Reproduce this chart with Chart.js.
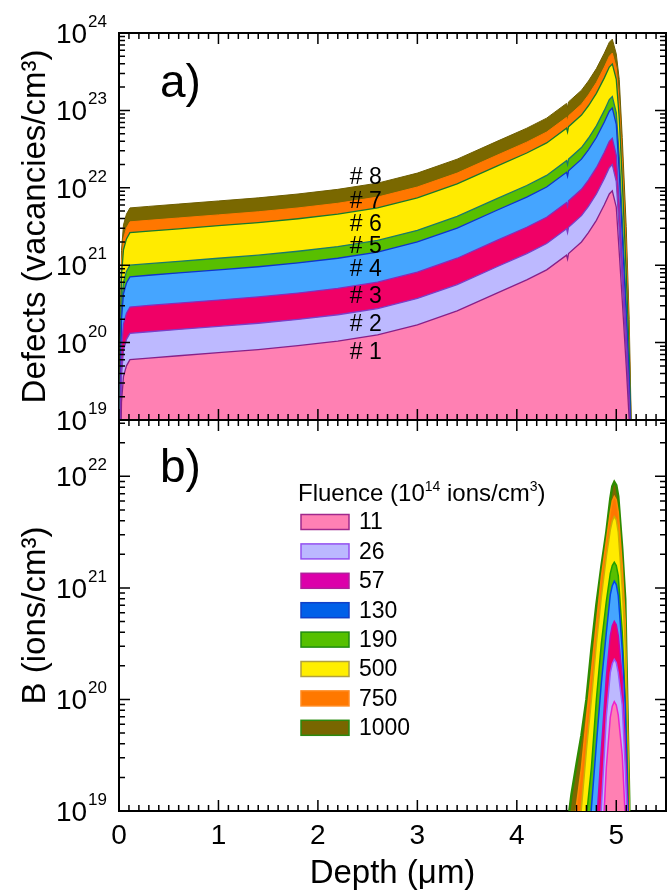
<!DOCTYPE html>
<html>
<head>
<meta charset="utf-8">
<script src="https://cdn.jsdelivr.net/npm/chart.js@4.4.1/dist/chart.umd.min.js"></script>
<style>
  html, body { margin: 0; background: #fff; }
  #wrap { position: relative; width: 668px; height: 892px; }
  canvas { position: absolute; left: 0; }
  #defects { top: 0; }
  #boron { top: 410px; }
</style>
</head>
<body>
<div id="wrap">
  <canvas id="defects" width="668" height="440"></canvas>
  <canvas id="boron" width="668" height="482"></canvas>
</div>
<script>
// fluence of each implant, in 1e14 ions/cm^3
const fluences = ['11', '26', '57', '130', '190', '500', '750', '1000'];

// panel a: vacancy profiles, values are log10(vacancies/cm^3)
const depthA = [0.000, 0.015, 0.025, 0.045, 0.075, 0.11, 0.3, 0.6, 1.0, 1.4, 1.8, 2.2, 2.6, 3.0, 3.4, 3.8, 4.1, 4.3, 4.50, 4.51, 4.52, 4.65, 4.72, 4.8, 4.84, 4.88, 4.93, 4.96, 5.00, 5.03, 5.06, 5.10, 5.13, 5.15, 5.17];
const defects11   = [10, 18.38, 19.23, 19.56, 19.70, 19.78, 19.80, 19.83, 19.87, 19.91, 19.96, 20.02, 20.10, 20.23, 20.41, 20.64, 20.81, 20.94, 21.13, 21.08, 21.15, 21.30, 21.42, 21.58, 21.68, 21.78, 21.92, 21.96, 21.75, 21.16, 20.55, 19.70, 19.00, 18.00, 10];
const defects26   = [10, 18.72, 19.57, 19.90, 20.04, 20.12, 20.14, 20.17, 20.21, 20.25, 20.30, 20.36, 20.44, 20.57, 20.75, 20.98, 21.15, 21.28, 21.47, 21.42, 21.49, 21.64, 21.76, 21.92, 22.02, 22.12, 22.26, 22.30, 22.08, 21.45, 20.80, 19.90, 19.15, 18.20, 10];
const defects57   = [10, 19.06, 19.91, 20.24, 20.38, 20.46, 20.48, 20.51, 20.55, 20.59, 20.64, 20.70, 20.78, 20.91, 21.09, 21.32, 21.49, 21.62, 21.81, 21.76, 21.83, 21.98, 22.10, 22.26, 22.36, 22.46, 22.60, 22.64, 22.42, 21.78, 21.05, 20.10, 19.30, 18.40, 10];
const defects130  = [10, 19.45, 20.30, 20.63, 20.77, 20.85, 20.87, 20.90, 20.94, 20.98, 21.03, 21.09, 21.17, 21.30, 21.48, 21.71, 21.88, 22.01, 22.20, 22.15, 22.22, 22.37, 22.49, 22.65, 22.75, 22.85, 22.99, 23.03, 22.82, 22.20, 21.40, 20.35, 19.50, 18.60, 10];
const defects190  = [10, 19.60, 20.45, 20.78, 20.92, 21.00, 21.02, 21.05, 21.09, 21.13, 21.18, 21.24, 21.32, 21.45, 21.63, 21.86, 22.03, 22.16, 22.35, 22.30, 22.37, 22.52, 22.64, 22.80, 22.90, 23.00, 23.14, 23.18, 22.97, 22.40, 21.60, 20.50, 19.60, 18.70, 10];
const defects500  = [10, 20.02, 20.87, 21.20, 21.34, 21.42, 21.44, 21.47, 21.51, 21.55, 21.60, 21.66, 21.74, 21.87, 22.05, 22.28, 22.45, 22.58, 22.77, 22.72, 22.79, 22.94, 23.06, 23.22, 23.32, 23.42, 23.56, 23.60, 23.40, 22.90, 22.10, 20.90, 19.85, 18.85, 10];
const defects750  = [10, 20.16, 21.01, 21.34, 21.48, 21.56, 21.58, 21.61, 21.65, 21.69, 21.74, 21.80, 21.88, 22.01, 22.19, 22.42, 22.59, 22.72, 22.91, 22.86, 22.93, 23.08, 23.20, 23.36, 23.46, 23.56, 23.70, 23.74, 23.55, 23.10, 22.35, 21.20, 20.05, 18.90, 10];
const defects1000 = [10, 20.34, 21.19, 21.52, 21.66, 21.74, 21.76, 21.79, 21.83, 21.87, 21.92, 21.98, 22.06, 22.19, 22.37, 22.60, 22.77, 22.90, 23.09, 23.04, 23.11, 23.26, 23.38, 23.54, 23.64, 23.74, 23.88, 23.92, 23.73, 23.40, 22.65, 21.50, 20.30, 19.00, 10];

// panel b: implanted boron, values are log10(ions/cm^3)
const depthB = [0, 4.40, 4.50, 4.55, 4.60, 4.65, 4.70, 4.75, 4.80, 4.85, 4.90, 4.94, 4.96, 4.98, 5.00, 5.02, 5.06, 5.09, 5.11, 5.13, 5.15, 5.50];
const boron11   = [10, 10, 10, 10, 10, 10, 10, 10, 17.6, 18.50, 19.39, 19.84, 19.94, 19.98, 19.95, 19.86, 19.50, 18.95, 18.50, 18.00, 17.0, 10];
const boron26   = [10, 10, 10, 10, 10, 10, 10, 17.5, 18.30, 19.03, 19.85, 20.24, 20.32, 20.36, 20.33, 20.24, 19.95, 19.40, 18.95, 18.30, 17.0, 10];
const boron57   = [10, 10, 10, 10, 10, 10, 17.6, 18.30, 18.85, 19.55, 20.20, 20.57, 20.66, 20.70, 20.67, 20.57, 20.20, 19.60, 19.10, 18.40, 17.0, 10];
const boron130  = [10, 10, 10, 10, 10, 17.8, 18.50, 19.03, 19.60, 20.15, 20.60, 20.94, 21.02, 21.06, 21.03, 20.93, 20.45, 19.95, 19.30, 18.60, 17.0, 10];
const boron190  = [10, 10, 10, 10, 17.8, 18.50, 18.95, 19.39, 20.00, 20.50, 20.88, 21.13, 21.20, 21.23, 21.20, 21.11, 20.60, 20.00, 19.40, 18.70, 17.0, 10];
const boron500  = [10, 10, 10, 17.8, 18.60, 19.03, 19.55, 20.00, 20.50, 20.92, 21.28, 21.52, 21.60, 21.64, 21.61, 21.50, 21.00, 20.50, 19.80, 18.90, 17.0, 10];
const boron750  = [10, 10, 17.8, 18.70, 19.05, 19.39, 19.83, 20.25, 20.68, 21.10, 21.42, 21.68, 21.78, 21.82, 21.79, 21.68, 21.20, 20.70, 19.90, 19.00, 17.0, 10];
const boron1000 = [10, 17.5, 18.8, 19.15, 19.42, 19.68, 20.00, 20.45, 20.85, 21.19, 21.50, 21.80, 21.91, 21.95, 21.92, 21.82, 21.35, 20.90, 20.00, 19.10, 17.0, 10];

const defectSeries = [defects11, defects26, defects57, defects130, defects190, defects500, defects750, defects1000];
const boronSeries = [boron11, boron26, boron57, boron130, boron190, boron500, boron750, boron1000];

const fillColors   = ['#ff80b3', '#bdb9ff', '#f00066', '#45a5ff', '#58bf00', '#ffeb00', '#ff7700', '#7a6800'];
const linesA       = ['#862089', '#7a3fc8', '#8a2ab8', '#1034cc', '#1a7a6a', '#17792c', '#ff7700', '#6e5e00'];
const linesB       = ['#ee22cc', '#9955ff', '#cc00aa', '#0044e6', '#22a000', '#ccb000', '#ff8c00', '#2e8b00'];
const legendFill   = ['#ff80b4', '#bbb8ff', '#dc00aa', '#0060e8', '#55c000', '#ffee00', '#ff7800', '#786600'];
const legendLine   = ['#a0288c', '#9450f0', '#b0209c', '#1040c8', '#1f8c10', '#b0a040', '#ff8a20', '#2a8a10'];

const FONT = "'Liberation Sans', Arial, sans-serif";
Chart.defaults.font.family = FONT;
Chart.defaults.color = '#000';

function toPoints(xs, logs) {
  return xs.map((x, i) => ({ x, y: Math.pow(10, logs[i]) }));
}

// "10" with a raised exponent, right-aligned at xRight
function drawPower(ctx, xRight, yMid, exp) {
  const base = '28px ' + FONT, sup = '17px ' + FONT;
  ctx.font = sup;
  const sw = ctx.measureText(String(exp)).width;
  ctx.font = base;
  const bw = ctx.measureText('10').width;
  const x0 = xRight - sw - bw - 1;
  ctx.textAlign = 'left';
  ctx.textBaseline = 'alphabetic';
  ctx.fillText('10', x0, yMid + 10);
  ctx.font = sup;
  ctx.fillText(String(exp), x0 + bw + 1, yMid - 6);
}

// closed frame with inward ticks on all four sides, decade labels on the left
const frameTicks = {
  id: 'frameTicks',
  afterDraw(chart) {
    const { ctx, chartArea: a, scales: { x, y } } = chart;
    ctx.save();
    ctx.strokeStyle = '#000';
    ctx.lineWidth = 2;
    ctx.beginPath();
    ctx.moveTo(a.left, a.top);
    ctx.lineTo(a.right, a.top);
    ctx.lineTo(a.right, a.bottom);
    ctx.stroke();

    ctx.lineWidth = 1.5;
    ctx.beginPath();
    for (let i = 0; i <= x.max * 10 + 1e-9; i++) {
      const px = x.getPixelForValue(i / 10);
      const len = i % 10 === 0 ? 11 : 6;
      ctx.moveTo(px, a.bottom); ctx.lineTo(px, a.bottom - len);
      ctx.moveTo(px, a.top); ctx.lineTo(px, a.top + len);
    }
    const e0 = Math.floor(Math.log10(y.min)), e1 = Math.ceil(Math.log10(y.max));
    for (let e = e0; e <= e1; e++) {
      for (let m = 1; m <= 9; m++) {
        const v = m * Math.pow(10, e);
        if (v < y.min * 0.999 || v > y.max * 1.001) continue;
        const py = y.getPixelForValue(v);
        const len = m === 1 ? 11 : 6;
        ctx.moveTo(a.left, py); ctx.lineTo(a.left + len, py);
        ctx.moveTo(a.right, py); ctx.lineTo(a.right - len, py);
      }
    }
    ctx.stroke();

    ctx.fillStyle = '#000';
    for (let e = e0; e <= e1; e++) {
      const v = Math.pow(10, e);
      if (v < y.min * 0.999 || v > y.max * 1.001) continue;
      drawPower(ctx, a.left - 12, y.getPixelForValue(v), e);
    }
    ctx.restore();
  }
};

// panel letter and the "# n" tags
const panelText = {
  id: 'panelText',
  afterDraw(chart, args, opts) {
    const { ctx, scales: { x, y } } = chart;
    ctx.save();
    ctx.fillStyle = '#000';
    ctx.textAlign = 'left';
    ctx.textBaseline = 'alphabetic';
    ctx.font = '46px ' + FONT;
    ctx.fillText(opts.letter, opts.letterX, opts.letterY);
    if (opts.tags) {
      ctx.font = '23px ' + FONT;
      ctx.textBaseline = 'middle';
      opts.tags.forEach((lv, i) => {
        ctx.fillText('# ' + (i + 1), x.getPixelForValue(opts.tagDepth), y.getPixelForValue(Math.pow(10, lv)));
      });
    }
    ctx.restore();
  }
};

// fluence key drawn inside panel b
const fluenceKey = {
  id: 'fluenceKey',
  afterDraw(chart, args, opts) {
    const { ctx } = chart;
    ctx.save();
    ctx.fillStyle = '#000';
    ctx.textAlign = 'left';
    ctx.textBaseline = 'alphabetic';
    const parts = [['Fluence (10', 24, 0], ['14', 14, -10], [' ions/cm', 24, 0], ['3', 14, -10], [')', 24, 0]];
    let cx = opts.x;
    parts.forEach(([t, size, dy]) => {
      ctx.font = size + 'px ' + FONT;
      ctx.fillText(t, cx, opts.titleY + dy);
      cx += ctx.measureText(t).width;
    });
    ctx.font = '23px ' + FONT;
    ctx.textBaseline = 'middle';
    ctx.lineWidth = 1.5;
    chart.data.datasets.forEach((ds, i) => {
      const cy = opts.firstY + i * opts.step;
      ctx.fillStyle = legendFill[i];
      ctx.strokeStyle = legendLine[i];
      ctx.fillRect(opts.x + 3, cy - 7.5, 48, 15);
      ctx.strokeRect(opts.x + 3, cy - 7.5, 48, 15);
      ctx.fillStyle = '#000';
      ctx.fillText(ds.label, opts.x + 61, cy + 1);
    });
    ctx.restore();
  }
};

function datasets(xs, series, lines, widths) {
  return series.map((logs, i) => ({
    label: fluences[i],
    data: toPoints(xs, logs),
    backgroundColor: fillColors[i],
    borderColor: lines[i],
    borderWidth: widths[i],
    fill: 'start',
    pointRadius: 0,
    tension: 0
  }));
}

function yTitle(text) {
  return { display: true, text, font: { size: 33, lineHeight: 1 }, padding: { top: 19, bottom: 0 } };
}

new Chart(document.getElementById('defects'), {
  type: 'line',
  data: { datasets: datasets(depthA, defectSeries, linesA, [1.3, 1.3, 1.3, 1.3, 1.3, 1.3, 1, 1]) },
  plugins: [frameTicks, panelText],
  options: {
    responsive: false,
    devicePixelRatio: 1,
    animation: false,
    layout: { padding: { top: 33, right: 2, bottom: 20, left: 0 } },
    scales: {
      x: {
        type: 'linear', min: 0, max: 5.5,
        ticks: { display: false },
        grid: { display: false, drawTicks: false },
        border: { display: true, color: '#000', width: 2 },
        afterFit: s => { s.height = 0; }
      },
      y: {
        type: 'logarithmic', min: 1e19, max: 1e24,
        ticks: { display: false },
        grid: { display: false, drawTicks: false },
        border: { display: true, color: '#000', width: 2 },
        title: yTitle('Defects (vacancies/cm³)'),
        afterFit: s => { s.width = 119; }
      }
    },
    plugins: {
      legend: { display: false },
      tooltip: { enabled: false },
      panelText: {
        letter: 'a)', letterX: 160, letterY: 97,
        tagDepth: 2.32,
        tags: [19.87, 20.23, 20.59, 20.94, 21.24, 21.52, 21.82, 22.13]
      }
    }
  }
});

new Chart(document.getElementById('boron'), {
  type: 'line',
  data: { datasets: datasets(depthB, boronSeries, linesB, [1.5, 1.5, 1.5, 1.5, 1.5, 1.5, 1.5, 2.5]) },
  plugins: [frameTicks, panelText, fluenceKey],
  options: {
    responsive: false,
    devicePixelRatio: 1,
    animation: false,
    layout: { padding: { top: 10, right: 2, bottom: 0, left: 0 } },
    scales: {
      x: {
        type: 'linear', min: 0, max: 5.5,
        ticks: { stepSize: 1, includeBounds: false, padding: 8, font: { size: 28, lineHeight: 1.2 } },
        grid: { display: false, drawTicks: false },
        border: { display: true, color: '#000', width: 2 },
        title: { display: true, text: 'Depth (μm)', font: { size: 33, lineHeight: 1 }, padding: { top: 0, bottom: 2 } },
        afterFit: s => { s.height = 81; }
      },
      y: {
        type: 'logarithmic', min: 1e19, max: 3.2e22,
        ticks: { display: false },
        grid: { display: false, drawTicks: false },
        border: { display: true, color: '#000', width: 2 },
        title: yTitle('B (ions/cm³)'),
        afterFit: s => { s.width = 119; }
      }
    },
    plugins: {
      legend: { display: false },
      tooltip: { enabled: false },
      panelText: { letter: 'b)', letterX: 160, letterY: 72 },
      fluenceKey: { x: 298, titleY: 91, firstY: 112, step: 29.4 }
    }
  }
});
</script>
</body>
</html>
